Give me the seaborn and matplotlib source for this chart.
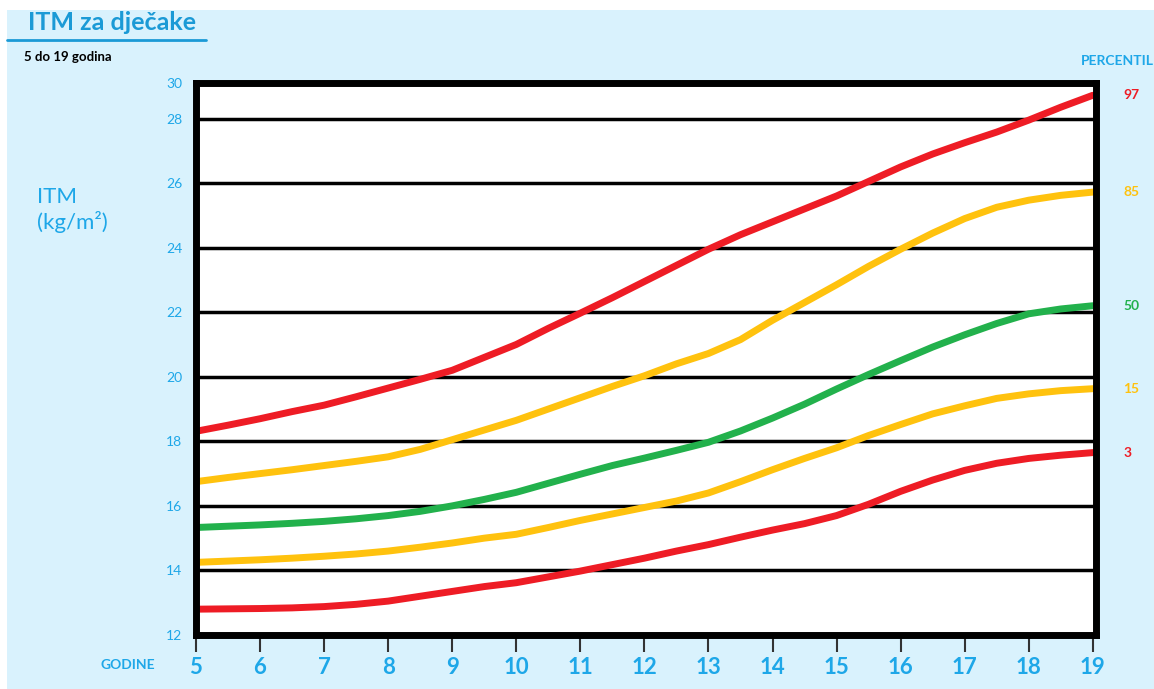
import pandas as pd
import seaborn as sns
import matplotlib.pyplot as plt
from matplotlib.patches import Rectangle
from matplotlib.lines import Line2D

# ages (years), read every half year, and BMI percentile curves
ages = [5, 5.5, 6, 6.5, 7, 7.5, 8, 8.5, 9, 9.5, 10, 10.5, 11, 11.5, 12, 12.5,
        13, 13.5, 14, 14.5, 15, 15.5, 16, 16.5, 17, 17.5, 18, 18.5, 19]
p97 = [18.31, 18.5, 18.7, 18.92, 19.12, 19.38, 19.65, 19.92, 20.2, 20.6, 21.0, 21.5,
       21.97, 22.45, 22.95, 23.45, 23.95, 24.4, 24.8, 25.2, 25.6, 26.05, 26.5, 26.9,
       27.25, 27.58, 27.95, 28.35, 28.72]
p85 = [16.75, 16.88, 17.0, 17.12, 17.25, 17.38, 17.52, 17.75, 18.05, 18.35, 18.65, 19.0,
       19.35, 19.7, 20.03, 20.4, 20.72, 21.15, 21.75, 22.3, 22.85, 23.42, 23.95, 24.45,
       24.9, 25.25, 25.47, 25.62, 25.72]
p50 = [15.33, 15.37, 15.41, 15.46, 15.52, 15.6, 15.7, 15.83, 16.0, 16.2, 16.42, 16.7,
       16.98, 17.25, 17.48, 17.72, 17.97, 18.32, 18.72, 19.15, 19.62, 20.07, 20.5, 20.92,
       21.3, 21.65, 21.95, 22.1, 22.2]
p15 = [14.25, 14.29, 14.33, 14.38, 14.44, 14.51, 14.6, 14.72, 14.85, 15.0, 15.12, 15.33,
       15.55, 15.75, 15.95, 16.15, 16.4, 16.75, 17.12, 17.47, 17.8, 18.18, 18.52, 18.85,
       19.1, 19.33, 19.47, 19.57, 19.63]
p3 = [12.8, 12.81, 12.82, 12.84, 12.88, 12.95, 13.05, 13.2, 13.35, 13.5, 13.62, 13.8,
      13.98, 14.18, 14.38, 14.6, 14.8, 15.03, 15.25, 15.45, 15.7, 16.05, 16.45, 16.8,
      17.1, 17.32, 17.47, 17.57, 17.65]

percentiles = ["97", "85", "50", "15", "3"]
year_ticks = [5, 6, 7, 8, 9, 10, 11, 12, 13, 14, 15, 16, 17, 18, 19]
y_ticks = [12, 14, 16, 18, 20, 22, 24, 26, 28]

RED = "#ee1c25"
YELLOW = "#ffc20e"
GREEN = "#22b14c"
BLUE = "#1ea7e8"
colors = {"97": RED, "85": YELLOW, "50": GREEN, "15": YELLOW, "3": RED}


def build_df():
    # long form table for seaborn
    series = {"97": p97, "85": p85, "50": p50, "15": p15, "3": p3}
    rows = []
    for name in percentiles:
        for a, v in zip(ages, series[name]):
            rows.append({"age": a, "bmi": v, "percentil": name})
    return pd.DataFrame(rows)


def main():
    df = build_df()
    sns.set_style("white")
    plt.rcParams["font.family"] = ["Lato", "DejaVu Sans"]

    fig = plt.figure(figsize=(11.54, 6.89), dpi=100)
    fig.patch.set_facecolor("white")
    # light blue panel behind everything
    fig.patches.append(Rectangle((7 / 1154, 0), 1 - 7 / 1154, 1 - 10 / 689,
                                 transform=fig.transFigure, facecolor="#d9f2fd",
                                 edgecolor="none", zorder=-10))

    ax = fig.add_axes([196 / 1154, 1 - 635 / 689, 900 / 1154, 552 / 689])
    ax.set_facecolor("white")

    sns.lineplot(data=df, x="age", y="bmi", hue="percentil", palette=colors,
                 linewidth=5, legend=False, ax=ax, zorder=3,
                 solid_capstyle="round")

    top = 29.1
    ax.set_xlim(5, 19.05)
    ax.set_ylim(12, top)
    for v in y_ticks[1:]:
        ax.axhline(v, color="black", linewidth=2.5, zorder=2)

    ax.set_yticks(y_ticks + [top])
    ax.set_yticklabels([str(v) for v in y_ticks] + ["30"], color=BLUE, fontsize=10)
    ax.tick_params(axis="y", left=False, length=0, pad=10)
    ax.set_xticks(year_ticks)
    ax.set_xticklabels([str(a) for a in year_ticks], color=BLUE, fontsize=16,
                       fontweight="bold")
    ax.tick_params(axis="x", length=0, pad=16)
    # little tick marks hanging under the x axis
    ax.vlines(year_ticks, 0, -0.03, transform=ax.get_xaxis_transform(),
              colors="#333333", linewidth=1.5, clip_on=False, zorder=1)
    ax.set_xlabel("")
    ax.set_ylabel("")
    for s in ax.spines.values():
        s.set_color("black")
        s.set_linewidth(5)
        s.set_zorder(4)

    # percentile labels on the right
    ends = {"97": p97[-1], "85": p85[-1], "50": p50[-1], "15": p15[-1], "3": p3[-1]}
    for name in percentiles:
        ax.annotate(name, xy=(19, ends[name]), xycoords="data", xytext=(22, 0),
                    textcoords="offset points", color=colors[name], fontsize=10,
                    fontweight="bold", va="center", ha="left")

    fig.text(1117 / 1154, 1 - 61 / 689, "PERCENTIL", color=BLUE, fontsize=10,
             fontweight="bold", ha="center", va="center")
    fig.text(128 / 1154, 1 - 665 / 689, "GODINE", color=BLUE, fontsize=10,
             fontweight="bold", ha="center", va="center")
    fig.text(28 / 1154, 1 - 22 / 689, "ITM za dječake", color="#1b9ad6", fontsize=18,
             fontweight="bold", ha="left", va="center")
    fig.lines.append(Line2D([7 / 1154, 206 / 1154], [1 - 40 / 689, 1 - 40 / 689],
                            transform=fig.transFigure, color="#1b9ad6", linewidth=2))
    fig.text(24 / 1154, 1 - 57 / 689, "5 do 19 godina", color="black", fontsize=9.5,
             fontweight="bold", ha="left", va="center")
    fig.text(37 / 1154, 1 - 210 / 689, "ITM\n(kg/m²)", color=BLUE, fontsize=16,
             ha="left", va="center", linespacing=1.25)

    fig.savefig("out.png", dpi=100, facecolor=fig.get_facecolor())


if __name__ == "__main__":
    main()
